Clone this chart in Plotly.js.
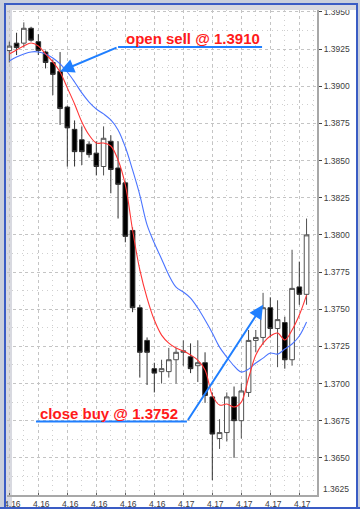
<!DOCTYPE html>
<html><head><meta charset="utf-8">
<script src="https://cdn.plot.ly/plotly-3.0.1.min.js"></script>
<style>
html,body{margin:0;padding:0;background:#fff;}
#wrap{position:relative;width:360px;height:509px;overflow:hidden;}
#chart{position:absolute;left:0;top:0;width:360px;height:509px;}
.fr{position:absolute;pointer-events:none;}
</style></head><body>
<div id="wrap"><div id="chart"></div>
<div class="fr" style="left:0;top:0;width:360px;height:3px;background:#c9cfdc"></div>
<div class="fr" style="left:0;top:3px;width:360px;height:2px;background:#3a5cc4"></div>
<div class="fr" style="left:0;top:5px;width:360px;height:5px;background:#d8d9e0"></div>
<div class="fr" style="left:0;top:0;width:4px;height:509px;background:#c9cfdc"></div>
<div class="fr" style="left:4px;top:3px;width:2px;height:506px;background:#3a5cc4"></div>
<div class="fr" style="left:356px;top:3px;width:2px;height:506px;background:#3a5cc4"></div>
<div class="fr" style="left:358px;top:0;width:2px;height:509px;background:#c9cfdc"></div>
<div class="fr" style="left:0;top:507px;width:360px;height:2px;background:#3a5cc4"></div>
</div>
<script>
// ---- data ----
const open  = [1.3924,1.3929,1.3929,1.3939,1.3930,1.3923,1.3916,1.3910,1.3886,1.3871,1.3864,1.3861,1.3855,1.3846,1.3863,1.3845,1.3835,1.3803,1.3751,1.3729,1.3710,1.3708,1.3708,1.3716,1.3721,1.3718,1.3712,1.3714,1.3691,1.3663,1.3667,1.3691,1.3675,1.3694,1.3729,1.3731,1.3751,1.3737,1.3741,1.3716,1.3765,1.3760];
const high  = [1.3930,1.3936,1.3943,1.3940,1.3935,1.3924,1.3918,1.3923,1.3887,1.3877,1.3873,1.3863,1.3863,1.3873,1.3867,1.3863,1.3836,1.3805,1.3753,1.3731,1.3714,1.3716,1.3724,1.3724,1.3729,1.3727,1.3729,1.3721,1.3694,1.3676,1.3694,1.3698,1.3700,1.3736,1.3736,1.3761,1.3758,1.3756,1.3745,1.3790,1.3782,1.3811];
const low   = [1.3916,1.3921,1.3926,1.3930,1.3921,1.3912,1.3894,1.3874,1.3846,1.3846,1.3847,1.3852,1.3840,1.3840,1.3828,1.3811,1.3795,1.3748,1.3704,1.3699,1.3694,1.3700,1.3704,1.3700,1.3712,1.3707,1.3701,1.3687,1.3635,1.3656,1.3661,1.3650,1.3663,1.3691,1.3721,1.3726,1.3731,1.3711,1.3710,1.3712,1.3753,1.3753];
const close = [1.3927,1.3926,1.3939,1.3931,1.3924,1.3916,1.3908,1.3885,1.3872,1.3856,1.3856,1.3854,1.3846,1.3865,1.3844,1.3834,1.3799,1.3751,1.3721,1.3721,1.3707,1.3710,1.3716,1.3721,1.3722,1.3710,1.3714,1.3692,1.3666,1.3667,1.3691,1.3675,1.3695,1.3729,1.3731,1.3751,1.3737,1.3743,1.3716,1.3764,1.3760,1.3800];
const maFast = [1.39217,1.39244,1.39271,1.39291,1.39271,1.39217,1.39164,1.39096,1.38989,1.38881,1.38760,1.38672,1.38618,1.38618,1.38598,1.38504,1.38336,1.38033,1.37764,1.37575,1.37427,1.37326,1.37272,1.37239,1.37219,1.37192,1.37158,1.37091,1.36922,1.36855,1.36862,1.36842,1.36875,1.37037,1.37192,1.37272,1.37320,1.37340,1.37293,1.37360,1.37461,1.37595];
const maSlow = [1.39170,1.39197,1.39217,1.39231,1.39231,1.39217,1.39190,1.39150,1.39096,1.39029,1.38955,1.38894,1.38847,1.38814,1.38773,1.38706,1.38591,1.38437,1.38268,1.38067,1.37945,1.37838,1.37730,1.37649,1.37616,1.37575,1.37508,1.37427,1.37340,1.37245,1.37178,1.37118,1.37077,1.37097,1.37138,1.37171,1.37205,1.37198,1.37232,1.37266,1.37320,1.37414];
const xTickVals = [0,4,8,12,16,20,24,28,32,36,40];
const xTickText = ["4.16","4.16","4.16","4.16","4.16","4.16","4.17","4.17","4.17","4.17","4.17"];
const yTickVals = [1.3950,1.3925,1.3900,1.3875,1.3850,1.3825,1.3800,1.3775,1.3750,1.3725,1.3700,1.3675,1.3650];
const yBottomLabel = "1.3625";
const sellText = "open sell @ 1.3910", sellBar = 7, sellPrice = 1.3910;
const buyText = "close buy @ 1.3752", buyBar = 35, buyPrice = 1.3753;

const idx = open.map((_, i) => i);
const FONT = 'Liberation Sans, Arial, sans-serif';
const ARROW = '#1f7fff';
const TXT = '#ff1a1a';

const traces = [
  {type:'candlestick', x:idx, open:open, high:high, low:low, close:close,
   increasing:{line:{color:'#505050', width:1}, fillcolor:'#ffffff'},
   decreasing:{line:{color:'#303030', width:1}, fillcolor:'#000000'},
   whiskerwidth:0, hoverinfo:'skip'},
  {type:'scatter', mode:'lines', x:idx, y:maSlow, line:{color:'#4a74ff', width:1.1, shape:'spline'}, hoverinfo:'skip'},
  {type:'scatter', mode:'lines', x:idx, y:maFast, line:{color:'#ff3535', width:1.1, shape:'spline'}, hoverinfo:'skip'}
];

const tf = {family:FONT, size:8.5, color:'#404040'};
const layout = {
  width:360, height:509,
  margin:{l:7, r:43, t:10, b:14, pad:0},
  paper_bgcolor:'#ffffff', plot_bgcolor:'rgba(0,0,0,0)',
  showlegend:false, boxgap:0.2, boxgroupgap:0.2,
  xaxis:{range:[-0.32, 42.44], tickmode:'array', tickvals:xTickVals, ticktext:xTickText,
    showgrid:true, gridcolor:'#c4c4c4', griddash:'3px,3px', gridwidth:1,
    minor:{tickmode:'array', tickvals:xTickVals.map(v => v + 2), showgrid:true, gridcolor:'#cfcfcf', griddash:'1px,4px', gridwidth:1, ticklen:0},
    zeroline:false, showline:true, linecolor:'#a8a8a8', linewidth:2,
    ticks:'inside', ticklen:2, tickcolor:'#606060', tickfont:tf, ticklabelshift:3,
    rangeslider:{visible:false}, fixedrange:true},
  yaxis:{side:'right', range:[1.3625, 1.39513], tickmode:'array', tickvals:yTickVals,
    ticktext:yTickVals.map(v => v.toFixed(4)),
    showgrid:true, gridcolor:'#c4c4c4', griddash:'3px,3px', gridwidth:1,
    minor:{tickmode:'array', tickvals:yTickVals.map(v => v - 0.00125), showgrid:true, gridcolor:'#cfcfcf', griddash:'1px,4px', gridwidth:1, ticklen:0},
    zeroline:false, showline:true, linecolor:'#a8a8a8', linewidth:2,
    ticks:'outside', ticklen:3, tickcolor:'#404040', tickfont:tf, fixedrange:true},
  shapes:[
    {type:'rect', xref:'paper', yref:'paper', x0:-0.004, x1:0.0161, y0:-0.03, y1:1.03, layer:'below', fillcolor:'#d8d9e0', line:{width:0}},
    {type:'line', xref:'x', yref:'y', x0:15.0, x1:34.86, y0:1.39264, y1:1.39264, line:{color:ARROW, width:2}},
    {type:'line', xref:'x', yref:'y', x0:3.68, x1:24.5, y0:1.36744, y1:1.36744, line:{color:ARROW, width:2}}
  ],
  annotations:[
    {xref:'x', yref:'y', x:25.34, y:1.39322, text:'<b>' + sellText + '</b>', showarrow:false,
     font:{family:FONT, size:15, color:TXT}},
    {xref:'x', yref:'y', x:13.68, y:1.36798, text:'<b>' + buyText + '</b>', showarrow:false,
     font:{family:FONT, size:15, color:TXT}},
    {xref:'x', yref:'y', x:sellBar, y:sellPrice, axref:'x', ayref:'y', ax:15.0, ay:1.39264, text:'',
     showarrow:true, arrowhead:2, arrowsize:1.4, arrowwidth:2, arrowcolor:ARROW, standoff:0},
    {xref:'x', yref:'y', x:buyBar, y:buyPrice, axref:'x', ayref:'y', ax:24.5, ay:1.36744, text:'',
     showarrow:true, arrowhead:2, arrowsize:1.4, arrowwidth:2, arrowcolor:ARROW, standoff:0},
    {xref:'paper', yref:'paper', x:1, y:0.0124, xanchor:'left', yanchor:'middle', xshift:4,
     text:yBottomLabel, showarrow:false, font:tf}
  ]
};
Plotly.newPlot('chart', traces, layout, {staticPlot:true, displayModeBar:false});
</script>
</body></html>
